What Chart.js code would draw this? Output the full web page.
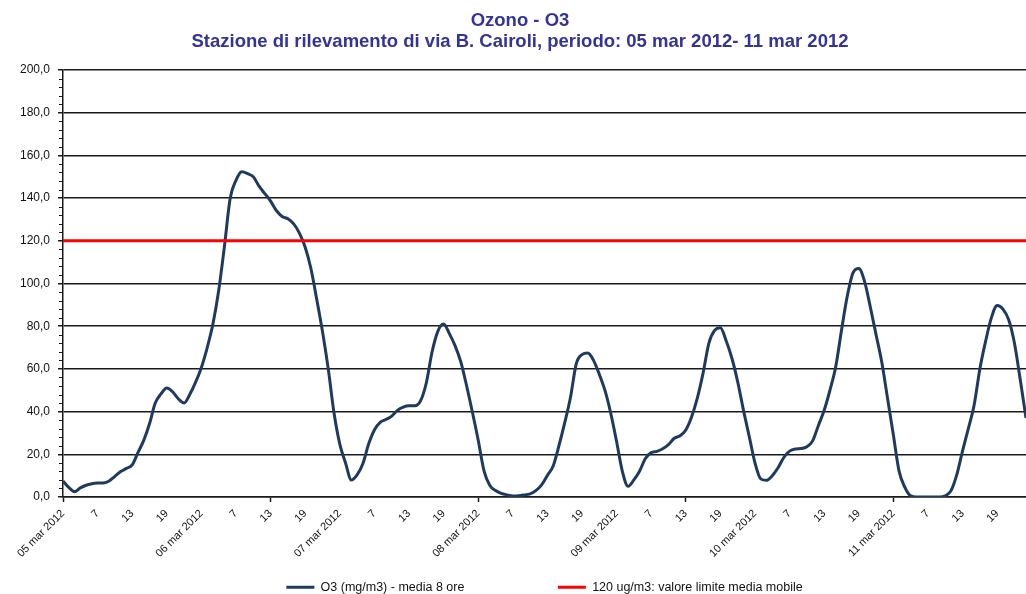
<!DOCTYPE html>
<html>
<head>
<meta charset="utf-8">
<title>Ozono - O3</title>
<script src="https://cdn.jsdelivr.net/npm/chart.js"></script>
<style>
  html, body { margin: 0; padding: 0; background: #fff; }
  #wrap { width: 1026px; height: 594px; }
</style>
</head>
<body>
<div id="wrap"><canvas id="o3-graph" width="1026" height="594"></canvas></div>
<script>
// Days and hours of the period (hourly values, hour 1..24 of each day)
const days = ['05 mar 2012', '06 mar 2012', '07 mar 2012', '08 mar 2012', '09 mar 2012', '10 mar 2012', '11 mar 2012'];
const hours = [1, 2, 3, 4, 5, 6, 7, 8, 9, 10, 11, 12, 13, 14, 15, 16, 17, 18, 19, 20, 21, 22, 23, 24];

// O3 8h moving average, one row per day
const o3Values = [
    7.5, 4.5, 2.5, 4.3, 5.5, 6.2, 6.5, 6.6, 7.5, 9.7, 11.9, 13.4, 15, 20.8, 26.5, 34.3, 44, 48.3, 51, 49.3, 46, 44, 48.1, 53.8,
    60.7, 69.9, 81, 96.7, 117.5, 140, 148.3, 152.3, 151.5, 150, 145.6, 142.1, 138.6, 134.2, 131.4, 130.3, 127.9, 123.6, 117, 106.9, 92.6, 77.5, 60, 39.3,
    24.8, 15.9, 8, 10.4, 15.6, 24.8, 31.4, 35, 36.3, 37.9, 40.6, 42.1, 42.7, 42.7, 45, 53.4, 67.9, 77.6, 81, 76.5, 70.8, 63.2, 52, 39.7,
    26.7, 12.4, 5.5, 3, 1.7, 1, 0.5, 0.6, 1, 1.5, 3, 5.7, 10.1, 14.5, 24, 34.7, 46.6, 62.3, 66.7, 67.4, 64, 57.5, 49.8, 39.1,
    26, 12, 5, 8, 12.2, 18, 20.8, 21.4, 22.6, 24.5, 27.5, 28.7, 31.4, 37.5, 46.3, 58, 72, 78, 79.3, 73.2, 65, 54, 40.7, 28.4,
    16, 8.5, 7.8, 10, 13.7, 18.5, 21.5, 22.5, 22.7, 23.5, 26.3, 33.5, 40.6, 50, 61, 78, 94, 105, 107, 101, 89, 76, 63, 46,
    29, 12, 4.5, 0.5, 0, 0, 0, 0, 0, 0.5, 3, 10.5, 21.6, 32, 43, 60, 73, 84, 89.7, 88, 83, 72, 55, 37
];

// limit value for the 8h moving average
const limitValue = 120;

const labels = days.flatMap(d => hours.map(h => d + ' ' + h));
const limitValues = labels.map(() => limitValue);

const yMin = 0, yMax = 200, yStep = 20, yMinorStep = 4;

const navy = '#1f3a5f';
const axisColor = '#1a1a1a';

// small marks between the y gridlines
const minorTicks = {
    id: 'minorTicks',
    afterDraw(chart) {
        const y = chart.scales.y;
        const x0 = chart.chartArea.left;
        const c = chart.ctx;
        c.save();
        c.strokeStyle = axisColor;
        c.lineWidth = 1;
        for (let k = 0; k * yMinorStep <= yMax; k++) {
            const v = yMin + k * yMinorStep;
            if (v % yStep === 0) continue;
            const py = Math.round(y.getPixelForValue(v)) + 0.5;
            c.beginPath();
            c.moveTo(x0 - 4, py);
            c.lineTo(x0, py);
            c.stroke();
        }
        c.restore();
    }
};

const ctx = document.getElementById('o3-graph').getContext('2d');

const data = {
    labels: labels,
    datasets: [{
        label: 'O3 (mg/m3) - media 8 ore',
        data: o3Values,
        borderColor: navy,
        backgroundColor: navy,
        borderWidth: 3,
        pointRadius: 0,
        cubicInterpolationMode: 'monotone',
        fill: false
    }, {
        label: '120 ug/m3: valore limite media mobile',
        data: limitValues,
        borderColor: '#ff0000',
        backgroundColor: '#ff0000',
        borderWidth: 3,
        pointRadius: 0,
        fill: false,
        order: -1
    }]
};

const config = {
    type: 'line',
    data: data,
    options: {
        responsive: false,
        animation: false,
        layout: { padding: { left: 14, right: 0, top: 0, bottom: 0 } },
        plugins: {
            title: {
                display: true,
                text: ['Ozono - O3', 'Stazione di rilevamento di via B. Cairoli, periodo: 05 mar 2012- 11 mar 2012'],
                color: '#333399',
                font: { family: 'Liberation Sans', size: 18.5, weight: 'bold', lineHeight: '21px' },
                padding: { top: 10, bottom: 18 }
            },
            legend: {
                position: 'bottom',
                fullSize: false,
                maxHeight: 27,
                onClick: () => {},
                labels: {
                    boxWidth: 28,
                    boxHeight: 3,
                    padding: 14,
                    font: { family: 'Liberation Sans', size: 12.5 },
                    color: '#111',
                    generateLabels(chart) {
                        const ds = chart.data.datasets;
                        const item = (d, i) => ({
                            text: d.label, fillStyle: d.borderColor, strokeStyle: d.borderColor,
                            lineWidth: 0, hidden: false, datasetIndex: i, fontColor: '#111'
                        });
                        // blank entry that only keeps the two items apart
                        const gap = { text: '         ', fillStyle: 'rgba(0,0,0,0)', strokeStyle: 'rgba(0,0,0,0)', lineWidth: 0, hidden: false, fontColor: 'rgba(0,0,0,0)' };
                        return [item(ds[0], 0), gap, item(ds[1], 1)];
                    }
                }
            },
            tooltip: { enabled: false }
        },
        scales: {
            x: {
                afterFit(scale) { scale.height = 70; },
                grid: {
                    drawOnChartArea: false,
                    drawTicks: true,
                    tickLength: 5,
                    tickWidth: 1.5,
                    tickColor: c => (c.index % 6 === 0 ? axisColor : 'rgba(0,0,0,0)')
                },
                border: { display: true, color: axisColor, width: 1.5 },
                ticks: {
                    autoSkip: false,
                    maxRotation: 45,
                    minRotation: 45,
                    padding: 5,
                    color: '#111',
                    font: { family: 'Liberation Sans', size: 11 },
                    callback: (v, i) => {
                        if (i % 24 === 0) return days[i / 24];
                        if (i % 6 === 0) return String(hours[i % 24]);
                        return null;
                    }
                }
            },
            y: {
                min: yMin,
                max: yMax,
                afterFit(scale) { scale.width = 49; },
                grid: { color: axisColor, lineWidth: 1.5, tickLength: 5 },
                border: { display: true, color: axisColor, width: 1.5 },
                ticks: {
                    stepSize: yStep,
                    padding: 8,
                    color: '#111',
                    font: { family: 'Liberation Sans', size: 12 },
                    callback: v => v.toFixed(1).replace('.', ',')
                }
            }
        }
    },
    plugins: [minorTicks]
};

const o3Chart = new Chart(ctx, config);
</script>
</body>
</html>
